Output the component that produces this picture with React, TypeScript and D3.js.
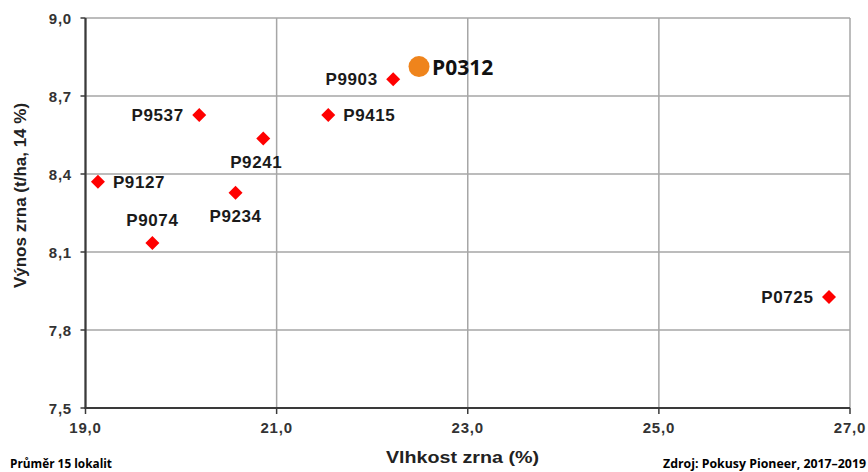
import React from "react";
import * as d3 from "d3";

const hybrids = ["P9127", "P9074", "P9234", "P9241", "P9537", "P9415", "P9903", "P0725"];
const moisture = [19.13, 19.7, 20.57, 20.86, 20.19, 21.54, 22.22, 26.78];
const yieldValues = [8.37, 8.135, 8.328, 8.537, 8.627, 8.627, 8.764, 7.927];
const labelSides = ["right", "above", "below", "below", "left", "right", "left", "left"];

const highlightName = "P0312";
const highlightMoisture = 22.49;
const highlightYield = 8.813;

const xTicks = [19, 21, 23, 25, 27];
const yTicks = [7.5, 7.8, 8.1, 8.4, 8.7, 9.0];

const xTitle = "Vlhkost zrna (%)";
const yTitle = "Výnos zrna (t/ha, 14 %)";
const footLeft = "Průměr 15 lokalit";
const footRight = "Zdroj: Pokusy Pioneer, 2017–2019";

const W = 868;
const H = 472;
const M = { left: 85.5, right: 850, top: 18, bottom: 408 };

const fmt = (v: number) => v.toFixed(1).replace(".", ",");

export default function App() {
  const x = d3.scaleLinear().domain([19, 27]).range([M.left, M.right]);
  const y = d3.scaleLinear().domain([7.5, 9.0]).range([M.bottom, M.top]);
  const font = "'Liberation Sans', Arial, sans-serif";
  const grid = "#a6a6a6";
  const axis = "#3a3a3a";

  const diamond = (cx: number, cy: number) => {
    const r = 7;
    return `M${cx},${cy - r}L${cx + r},${cy}L${cx},${cy + r}L${cx - r},${cy}Z`;
  };

  return (
    <svg
      width={W}
      height={H}
      style={{ position: "fixed", left: 0, top: 0, background: "#fff" }}
    >
      <rect x={0} y={0} width={W} height={H} fill="#fff" />
      {/* grid */}
      {yTicks.map((t) => (
        <line key={"gy" + t} x1={M.left} x2={M.right} y1={y(t)} y2={y(t)} stroke={grid} strokeWidth={1.5} />
      ))}
      {xTicks.map((t) => (
        <line key={"gx" + t} x1={x(t)} x2={x(t)} y1={M.top} y2={M.bottom} stroke={grid} strokeWidth={1.5} />
      ))}
      {/* axes */}
      <line x1={M.left} x2={M.left} y1={M.top} y2={M.bottom + 1} stroke={axis} strokeWidth={2.2} />
      <line x1={M.left - 1} x2={M.right} y1={M.bottom} y2={M.bottom} stroke={axis} strokeWidth={2.2} />
      {yTicks.map((t) => (
        <line key={"ty" + t} x1={M.left - 5} x2={M.left} y1={y(t)} y2={y(t)} stroke={axis} strokeWidth={1.5} />
      ))}
      {xTicks.map((t) => (
        <line key={"tx" + t} x1={x(t)} x2={x(t)} y1={M.bottom} y2={M.bottom + 6} stroke={axis} strokeWidth={1.5} />
      ))}
      {/* tick labels */}
      {yTicks.map((t) => (
        <text
          key={"ly" + t}
          x={72}
          y={y(t) + 5.5}
          textAnchor="end"
          fontFamily={font}
          fontWeight="bold"
          fontSize={15}
          fill="#333"
          style={{ letterSpacing: "0.8px" }}
        >
          {fmt(t)}
        </text>
      ))}
      {xTicks.map((t) => (
        <text
          key={"lx" + t}
          x={x(t)}
          y={432.5}
          textAnchor="middle"
          fontFamily={font}
          fontWeight="bold"
          fontSize={15}
          fill="#333"
          style={{ letterSpacing: "0.8px" }}
        >
          {fmt(t)}
        </text>
      ))}
      {/* axis titles */}
      <text
        x={462.5}
        y={463}
        textAnchor="middle"
        fontFamily={font}
        fontWeight="bold"
        fontSize={17}
        fill="#222"
        textLength={153}
        lengthAdjust="spacingAndGlyphs"
      >
        {xTitle}
      </text>
      <text
        transform={`translate(26,195.5) rotate(-90)`}
        textAnchor="middle"
        fontFamily={font}
        fontWeight="bold"
        fontSize={17}
        fill="#222"
      >
        {yTitle}
      </text>
      {/* points */}
      {hybrids.map((h, i) => {
        const cx = x(moisture[i]);
        const cy = y(yieldValues[i]);
        const side = labelSides[i];
        let lx = cx;
        let ly = cy + 6;
        let anchor: "start" | "middle" | "end" = "middle";
        if (side === "right") {
          lx = cx + 15;
          anchor = "start";
        } else if (side === "left") {
          lx = cx - 15.5;
          anchor = "end";
        } else if (side === "above") {
          ly = cy - 17;
        } else {
          ly = cy + 29.5;
          lx = h === "P9241" ? cx - 7 : cx;
        }
        return (
          <g key={h}>
            <path d={diamond(cx, cy)} fill="#ff0000" />
            <text
              x={lx}
              y={ly}
              textAnchor={anchor}
              fontFamily={font}
              fontWeight="bold"
              fontSize={17}
              fill="#1a1a1a"
              style={{ letterSpacing: "0.6px" }}
            >
              {h}
            </text>
          </g>
        );
      })}
      <circle cx={x(highlightMoisture)} cy={y(highlightYield)} r={10.5} fill="#ef841c" />
      <text
        x={x(highlightMoisture) + 13}
        y={y(highlightYield) + 8.5}
        fontFamily="'Open Sans', 'Noto Sans', sans-serif"
        fontWeight="bold"
        fontSize={21}
        fill="#111"
      >
        {highlightName}
      </text>
      {/* footers */}
      <text x={10} y={468} fontFamily="'Open Sans', 'Noto Sans', sans-serif" fontWeight="bold" fontSize={12.5} fill="#000" textLength={102} lengthAdjust="spacingAndGlyphs">
        {footLeft}
      </text>
      <text x={663} y={468} fontFamily="'Open Sans', 'Noto Sans', sans-serif" fontWeight="bold" fontSize={12.5} fill="#000" textLength={203} lengthAdjust="spacingAndGlyphs">
        {footRight}
      </text>
    </svg>
  );
}
